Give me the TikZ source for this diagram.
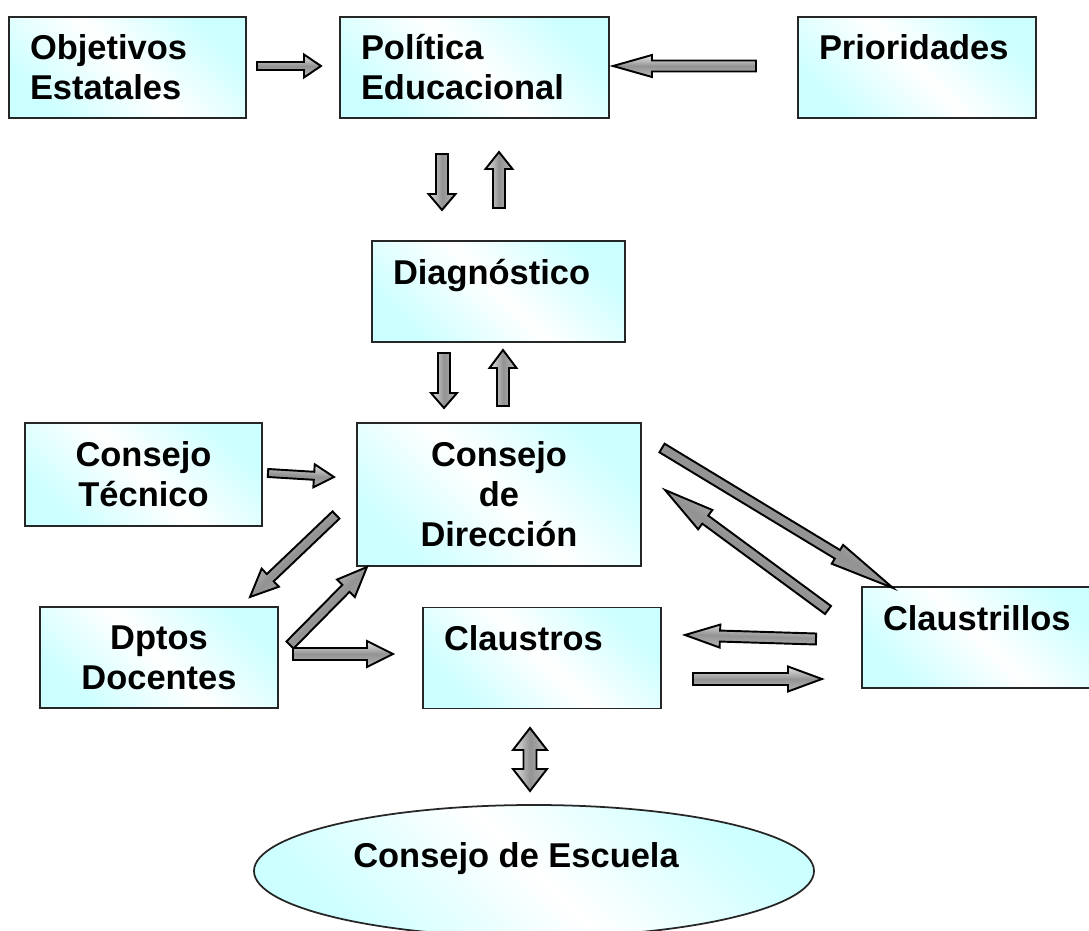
\documentclass[tikz,border=0pt]{standalone}
\usepackage{fontspec}
\setmainfont{Liberation Sans}
\usepackage{tikz}
\usetikzlibrary{calc,shapes.geometric}
\definecolor{boxcyan}{RGB}{204,255,255}
\tikzset{
    box/.style={draw=black!85, line width=1pt, top color=boxcyan, bottom color=boxcyan, middle color=white, shading angle=-45, minimum height=2.02cm, inner xsep=0.42cm, inner ysep=0pt, font=\fontsize{19.6}{22.8}\selectfont\bfseries},
    topbox/.style={text height=0.86cm, text depth=1.16cm},
    fatarrow/.style={draw=black, line width=1.1pt, line join=miter, top color=gray!20, bottom color=gray!55, middle color=gray!85},
    fa shaft/.store in=\fashaft, fa shaft=0.11cm,
    fa head/.store in=\fahead, fa head=0.24cm,
    fa len/.store in=\falen, fa len=0.34cm,
}
\newcommand{\fatarrow}[3][]{%
  \begin{scope}[#1]
    \pgfmathanglebetweenpoints{\pgfpointanchor{#2}{center}}{\pgfpointanchor{#3}{center}}
    \pgfmathsetmacro{\fashade}{mod(\pgfmathresult+449,180)-89}
    \coordinate (fa-b) at ($(#3)!\falen!(#2)$);
    \shadedraw[fatarrow, shading angle=\fashade]
      ($(#2)!\fashaft!90:(#3)$) -- ($(fa-b)!\fashaft!90:(#3)$) -- ($(fa-b)!\fahead!90:(#3)$)
      -- (#3) -- ($(fa-b)!\fahead!-90:(#3)$) -- ($(fa-b)!\fashaft!-90:(#3)$)
      -- ($(#2)!\fashaft!-90:(#3)$) -- cycle;
  \end{scope}}
\newcommand{\fatdarrow}[3][]{%
  \begin{scope}[#1]
    \pgfmathanglebetweenpoints{\pgfpointanchor{#2}{center}}{\pgfpointanchor{#3}{center}}
    \pgfmathsetmacro{\fashade}{mod(\pgfmathresult+449,180)-89}
    \coordinate (fa-b) at ($(#3)!\falen!(#2)$);
    \coordinate (fa-c) at ($(#2)!\falen!(#3)$);
    \shadedraw[fatarrow, shading angle=\fashade]
      (#2) -- ($(fa-c)!\fahead!90:(#3)$) -- ($(fa-c)!\fashaft!90:(#3)$)
      -- ($(fa-b)!\fashaft!90:(#3)$) -- ($(fa-b)!\fahead!90:(#3)$)
      -- (#3) -- ($(fa-b)!\fahead!-90:(#3)$) -- ($(fa-b)!\fashaft!-90:(#3)$)
      -- ($(fa-c)!\fashaft!-90:(#3)$) -- ($(fa-c)!\fahead!-90:(#3)$) -- cycle;
  \end{scope}}

\begin{document}
\begin{tikzpicture}
\clip (0,0) rectangle (21.78,-18.62);

% boxes
\node[box, text width=3.9cm, align=left] (obj) at (2.55,-1.35) {Objetivos\\Estatales};
\node[box, text width=4.54cm, align=left] (pol) at (9.49,-1.35) {Política\\Educacional};
\node[box, topbox, text width=3.92cm, align=left] (pri) at (18.34,-1.35) {Prioridades};
\node[box, topbox, text width=4.22cm, align=left] (dia) at (9.97,-5.83) {Diagnóstico};
\node[box, text width=3.9cm, align=center, minimum height=2.06cm] (ct) at (2.87,-9.49) {Consejo\\Técnico};
\node[box, text width=4.84cm, align=center, minimum height=2.86cm] (cdd) at (9.98,-9.89) {Consejo\\de\\Dirección};
\node[box, text width=3.92cm, align=center] (dpt) at (3.18,-13.15) {Dptos\\Docentes};
\node[box, topbox, text width=3.92cm, align=left] (cla) at (10.84,-13.16) {Claustros};
\node[box, topbox, text width=3.92cm, align=left] (cll) at (19.62,-12.75) {Claustrillos};
\node[box, ellipse, minimum width=11.2cm, minimum height=2.64cm, inner sep=0pt, text height=0.5cm, text depth=0.66cm] (esc) at (10.68,-17.42) {Consejo de Escuela\hspace*{0.72cm}};

% arrow ends
\coordinate (obj-pol-a) at (5.14,-1.32);   \coordinate (obj-pol-b) at (6.42,-1.32);
\coordinate (pri-pol-a) at (15.12,-1.32);  \coordinate (pri-pol-b) at (12.26,-1.32);
\coordinate (pol-dia-a) at (8.84,-3.08);   \coordinate (pol-dia-b) at (8.84,-4.2);
\coordinate (dia-pol-a) at (9.98,-4.16);   \coordinate (dia-pol-b) at (9.98,-3.04);
\coordinate (dia-cdd-a) at (8.88,-7.06);   \coordinate (dia-cdd-b) at (8.88,-8.16);
\coordinate (cdd-dia-a) at (10.06,-8.12);  \coordinate (cdd-dia-b) at (10.06,-7.0);
\coordinate (ct-cdd-a) at (5.36,-9.46);    \coordinate (ct-cdd-b) at (6.68,-9.54);
\coordinate (cdd-dpt-a) at (6.72,-10.3);   \coordinate (cdd-dpt-b) at (5.0,-11.94);
\coordinate (dpt-cdd-a) at (5.8,-12.9);    \coordinate (dpt-cdd-b) at (7.34,-11.34);
\coordinate (dpt-cla-a) at (5.86,-13.08);  \coordinate (dpt-cla-b) at (7.86,-13.08);
\coordinate (cdd-cll-a) at (13.24,-8.96);  \coordinate (cdd-cll-b) at (17.86,-11.76);
\coordinate (cll-cdd-a) at (16.56,-12.2);  \coordinate (cll-cdd-b) at (13.3,-9.8);
\coordinate (cll-cla-a) at (16.32,-12.78); \coordinate (cll-cla-b) at (13.7,-12.7);
\coordinate (cla-cll-a) at (13.86,-13.58); \coordinate (cla-cll-b) at (16.44,-13.58);
\coordinate (cla-esc-a) at (10.6,-14.56);  \coordinate (cla-esc-b) at (10.6,-15.82);

% block arrows
\fatarrow[fa shaft=0.08cm, fa head=0.23cm, fa len=0.34cm]{obj-pol-a}{obj-pol-b}
\fatarrow[fa shaft=0.11cm, fa head=0.22cm, fa len=0.78cm]{pri-pol-a}{pri-pol-b}
\fatarrow[fa shaft=0.12cm, fa head=0.27cm, fa len=0.32cm]{pol-dia-a}{pol-dia-b}
\fatarrow[fa shaft=0.12cm, fa head=0.27cm, fa len=0.34cm]{dia-pol-a}{dia-pol-b}
\fatarrow[fa shaft=0.12cm, fa head=0.26cm, fa len=0.30cm]{dia-cdd-a}{dia-cdd-b}
\fatarrow[fa shaft=0.12cm, fa head=0.27cm, fa len=0.36cm]{cdd-dia-a}{cdd-dia-b}
\fatarrow[fa shaft=0.08cm, fa head=0.23cm, fa len=0.40cm]{ct-cdd-a}{ct-cdd-b}
\fatarrow[fa shaft=0.10cm, fa head=0.25cm, fa len=0.56cm]{cdd-dpt-a}{cdd-dpt-b}
\fatarrow[fa shaft=0.10cm, fa head=0.25cm, fa len=0.60cm]{dpt-cdd-a}{dpt-cdd-b}
\fatarrow[fa shaft=0.12cm, fa head=0.26cm, fa len=0.52cm]{dpt-cla-a}{dpt-cla-b}
\fatarrow[fa shaft=0.10cm, fa head=0.22cm, fa len=1.30cm]{cdd-cll-a}{cdd-cll-b}
\fatarrow[fa shaft=0.10cm, fa head=0.24cm, fa len=1.00cm]{cll-cdd-a}{cll-cdd-b}
\fatarrow[fa shaft=0.11cm, fa head=0.23cm, fa len=0.70cm]{cll-cla-a}{cll-cla-b}
\fatarrow[fa shaft=0.12cm, fa head=0.25cm, fa len=0.68cm]{cla-cll-a}{cla-cll-b}
\fatdarrow[fa shaft=0.13cm, fa head=0.34cm, fa len=0.44cm]{cla-esc-a}{cla-esc-b}
\end{tikzpicture}
\end{document}
